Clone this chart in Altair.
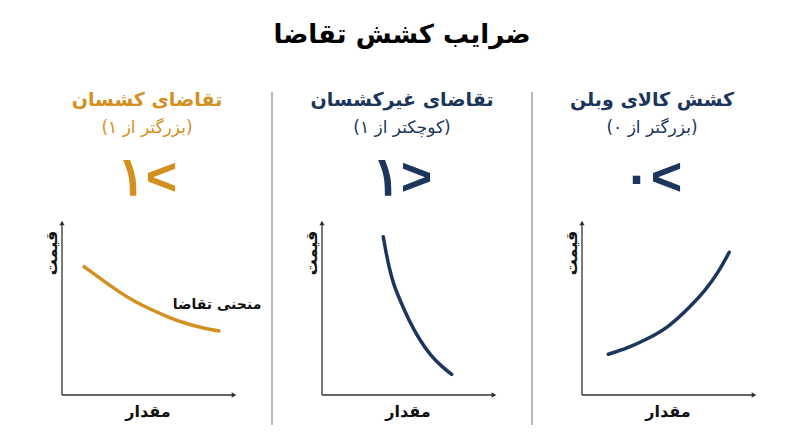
import altair as alt
import pandas as pd

# ---------------- data ----------------
chart_title = "ضرایب کشش تقاضا"
panel_names = ["تقاضای کشسان", "تقاضای غیرکشسان", "کشش کالای وبلن"]
panel_notes = ["(بزرگتر از ۱)", "(کوچکتر از ۱)", "(بزرگتر از ۰)"]
panel_signs = ["۱<", "۱>", "۰<"]
panel_colors = ["#D4901F", "#1B355C", "#1B355C"]
x_label = "مقدار"
y_label = "قیمت"
curve_label = "منحنی تقاضا"

# curves (quantity, price) on a 0..10 axis frame
q_elastic = [1.28, 2.34, 3.31, 4.28, 5.25, 6.22, 7.19, 8.16, 9.13]
p_elastic = [7.46, 6.69, 6.01, 5.42, 4.94, 4.52, 4.17, 3.91, 3.72]
q_inelastic = [3.56, 3.70, 3.90, 4.19, 4.58, 5.06, 5.64, 6.32, 6.99, 7.54]
p_inelastic = [9.20, 8.43, 7.46, 6.40, 5.42, 4.36, 3.30, 2.33, 1.65, 1.20]
q_veblen = [1.53, 2.69, 3.85, 5.02, 6.18, 7.15, 7.92, 8.56]
p_veblen = [2.37, 2.77, 3.30, 4.01, 5.04, 6.10, 7.17, 8.30]
curves_q = [q_elastic, q_inelastic, q_veblen]
curves_p = [p_elastic, p_inelastic, p_veblen]
axis_max = 10

# ---------------- layout ----------------
FONT = "DejaVu Sans"
W, H = 260, 370
PX = 17.2  # pixels per unit
ORIGIN_X, ORIGIN_Y = 50, 333  # axis origin inside a panel (pixels)
XD = [-ORIGIN_X / PX, (W - ORIGIN_X) / PX]
YD = [-(H - ORIGIN_Y) / PX, ORIGIN_Y / PX]
header_x = [135, 130, 120]

xs = alt.Scale(domain=XD, nice=False, zero=False)
ys = alt.Scale(domain=YD, nice=False, zero=False)


def panel(i):
    color = panel_colors[i]
    curve_df = pd.DataFrame({"q": curves_q[i], "p": curves_p[i]})
    curve = alt.Chart(curve_df).mark_line(
        color=color, strokeWidth=3.5, strokeCap="round", interpolate="natural"
    ).encode(
        x=alt.X("q:Q", scale=xs, axis=None),
        y=alt.Y("p:Q", scale=ys, axis=None),
    )
    axes_df = pd.DataFrame({"q": [0, 0], "p": [0, 0], "q2": [axis_max, 0], "p2": [0, axis_max]})
    axes = alt.Chart(axes_df).mark_rule(color="#333333", strokeWidth=1.3).encode(
        x=alt.X("q:Q", scale=xs, axis=None), x2="q2:Q",
        y=alt.Y("p:Q", scale=ys, axis=None), y2="p2:Q",
    )
    arrow_df = pd.DataFrame({"q": [0, axis_max], "p": [axis_max, 0], "s": ["triangle-up", "triangle-right"]})
    arrows = alt.Chart(arrow_df).mark_point(filled=True, color="#333333", size=28, opacity=1).encode(
        x=alt.X("q:Q", scale=xs, axis=None),
        y=alt.Y("p:Q", scale=ys, axis=None),
        shape=alt.Shape("s:N", scale=None),
    )

    def txt(s, x, y, size, weight, col, angle=0, font=FONT):
        return alt.Chart(pd.DataFrame({"t": [s]})).mark_text(
            font=font, fontSize=size, fontWeight=weight, color=col, angle=angle,
            align="center", baseline="middle",
        ).encode(text="t:N", x=alt.value(x), y=alt.value(y))

    layers = [axes, arrows, curve,
              txt(y_label, 40, 191, 16, "bold", "#111111", angle=270),
              txt(x_label, 136, 350, 16, "bold", "#111111"),
              txt(panel_names[i], header_x[i], 38, 19, "bold", color),
              txt(panel_notes[i], header_x[i], 66, 17, "normal", color),
              txt(panel_signs[i], header_x[i], 117, 54, "bold", color, font="Liberation Sans")]
    if i == 0:
        layers.append(txt(curve_label, 205, 243, 14, "bold", "#111111"))
    if i > 0:
        sep = alt.Chart(pd.DataFrame({"a": [0]})).mark_rule(color="#A0A0A0", strokeWidth=1.5).encode(
            x=alt.value(0), y=alt.value(30), y2=alt.value(363)
        )
        layers.append(sep)
    return alt.layer(*layers).properties(width=W, height=H)


chart = alt.hconcat(*[panel(i) for i in range(3)], spacing=0, bounds="flush").properties(
    title=alt.TitleParams(chart_title, font=FONT, fontSize=26, fontWeight="bold",
                          color="#000000", anchor="middle", offset=14),
    padding={"left": 4, "top": 14, "right": 0, "bottom": 0},
).configure_view(stroke=None)

chart.save("out.html", embed_options={"renderer": "svg", "actions": False})
